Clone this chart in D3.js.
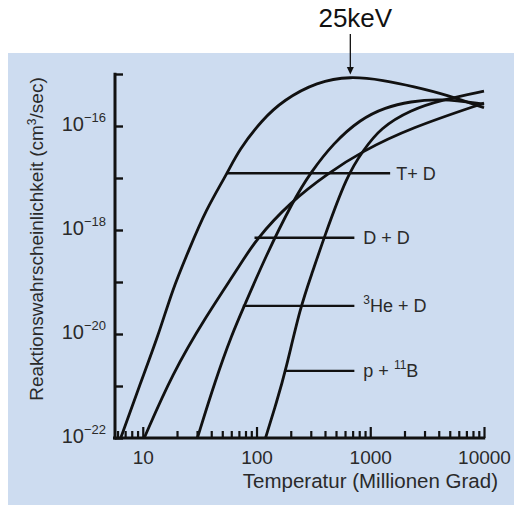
<!DOCTYPE html>
<html>
<head>
<meta charset="utf-8">
<script src="https://cdn.jsdelivr.net/npm/d3@7"></script>
<style>
  html, body { margin: 0; padding: 0; background: #ffffff; }
  svg { display: block; font-family: "Liberation Sans", Arial, sans-serif; }
</style>
</head>
<body>
<svg id="chart" width="514" height="508"></svg>
<script>
// ---- Data (temperature in million degrees, rate in log10(cm^3/sec)) ----
const tdT    = [6.4, 9.3, 13.9, 18.2, 25.5, 35.7, 55.3, 70, 112, 173, 340, 668, 1310, 2400, 4710, 10000];
const tdLog  = [-22, -21.01, -19.99, -19.15, -18.38, -17.62, -16.91, -16.46, -15.88, -15.50, -15.15, -15.04, -15.12, -15.24, -15.40, -15.65];

const ddT    = [10.3, 18.2, 35.7, 70, 98, 199, 431, 845, 2245, 10000];
const ddLog  = [-22, -20.76, -19.67, -18.71, -18.19, -17.46, -16.90, -16.49, -16.04, -15.56];

const hedT   = [30.2, 43.6, 61.2, 77.4, 120, 212, 298, 473, 817, 1355, 2245, 4110, 10000];
const hedLog = [-22, -20.88, -19.99, -19.48, -18.51, -17.42, -16.90, -16.33, -15.87, -15.64, -15.53, -15.47, -15.58];

const pbT    = [120, 152, 180, 243, 308, 389, 625, 874, 1224, 2245, 4370, 10000];
const pbLog  = [-22, -21.27, -20.71, -19.48, -18.83, -18.17, -16.94, -16.46, -16.04, -15.69, -15.49, -15.33];

const seriesNames  = ["T+ D", "D + D", "He + D", "p + B"];
const labelStartT  = [55.3, 98, 77.4, 180];
const labelLog     = [-16.91, -18.15, -19.46, -20.71];
const labelEndT    = [1496, 725, 725, 725];

const xMajorTicks = [10, 100, 1000, 10000];
const xMinorTicks = [6, 7, 8, 9, 20, 30, 40, 50, 60, 70, 80, 90,
                     200, 300, 400, 500, 600, 700, 800, 900,
                     2000, 3000, 4000, 5000, 6000, 7000, 8000, 9000];
const yTickExps   = [-22, -21, -20, -19, -18, -17, -16, -15];
const yLabelExps  = [-22, -20, -18, -16];
const peakLabel   = "25keV";
const peakT       = 668;
const peakLog     = -15.04;

// ---- Drawing ----
const svg = d3.select("#chart");
const ink = "#111";
const txt = "#2a2a2a";

svg.append("rect").attr("x", 8).attr("y", 53).attr("width", 506).attr("height", 452)
   .attr("fill", "#cddcf0");

const x = d3.scaleLog().domain([5.7, 10000]).range([115, 484]);
const y = d3.scaleLog().domain([1e-22, 1e-15]).range([438, 74]);

// x axis
const xAxisG = svg.append("g").attr("transform", "translate(0,438)");
xAxisG.call(d3.axisBottom(x).tickValues(xMinorTicks).tickSize(-7).tickSizeOuter(0).tickFormat(""));
xAxisG.append("g").call(d3.axisBottom(x).tickValues(xMajorTicks).tickSize(-11).tickSizeOuter(0)
  .tickPadding(13).tickFormat(d3.format("d")));
xAxisG.selectAll("path.domain").remove();
xAxisG.selectAll("line").attr("stroke", ink).attr("stroke-width", 2.2);
xAxisG.selectAll("text").attr("font-size", 19).attr("fill", txt)
  .attr("font-family", "Liberation Sans, Arial, sans-serif");
svg.append("line").attr("x1", 113).attr("x2", x(10000) + 1.2).attr("y1", 438).attr("y2", 438)
   .attr("stroke", ink).attr("stroke-width", 3);

// y axis
const yAxisG = svg.append("g").attr("transform", "translate(115,0)");
yAxisG.call(d3.axisLeft(y).tickValues(yTickExps.map(e => Math.pow(10, e))).tickSize(-8)
  .tickSizeOuter(0).tickPadding(9).tickFormat(""));
yAxisG.selectAll("path.domain").remove();
yAxisG.selectAll("line").attr("stroke", ink).attr("stroke-width", 2.4);
yAxisG.selectAll(".tick").each(function(d) {
  const e = Math.round(Math.log10(d));
  if (!yLabelExps.includes(e)) return;
  const t = d3.select(this).select("text");
  t.text("").attr("fill", txt).attr("font-family", "Liberation Sans, Arial, sans-serif")
   .attr("dy", "0.45em");
  t.append("tspan").attr("font-size", 20).text("10");
  t.append("tspan").attr("font-size", 13).attr("dy", -9).text("\u2212" + Math.abs(e));
});
svg.append("line").attr("x1", 115).attr("x2", 115).attr("y1", y(1e-15) - 1.2).attr("y2", 439.5)
   .attr("stroke", ink).attr("stroke-width", 3);

// axis titles
svg.append("text").attr("x", 498).attr("y", 488).attr("text-anchor", "end")
   .attr("font-size", 20.5).attr("fill", txt).text("Temperatur (Millionen Grad)");
const yt = svg.append("text").attr("transform", "translate(43,239) rotate(-90)")
   .attr("text-anchor", "middle").attr("font-size", 19).attr("fill", txt);
yt.append("tspan").text("Reaktionswahrscheinlichkeit (cm");
yt.append("tspan").attr("font-size", 12).attr("dy", -7).text("3");
yt.append("tspan").attr("dy", 7).text("/sec)");

// curves
const line = d3.line().x(d => x(d[0])).y(d => y(Math.pow(10, d[1]))).curve(d3.curveBasis);
const series = [[tdT, tdLog], [ddT, ddLog], [hedT, hedLog], [pbT, pbLog]];
series.forEach(([ts, ls]) => {
  svg.append("path").datum(ts.map((t, i) => [t, ls[i]]))
     .attr("d", line).attr("fill", "none").attr("stroke", ink).attr("stroke-width", 2.8)
     .attr("stroke-linejoin", "round");
});

// label leader lines and labels
seriesNames.forEach((name, i) => {
  const yy = y(Math.pow(10, labelLog[i]));
  svg.append("line").attr("x1", x(labelStartT[i]) - 1).attr("x2", x(labelEndT[i]))
     .attr("y1", yy).attr("y2", yy).attr("stroke", ink).attr("stroke-width", 2.4);
  const t = svg.append("text").attr("x", x(labelEndT[i]) + (i === 0 ? 6 : 9)).attr("y", yy + 6.5)
     .attr("font-size", 18).attr("fill", txt);
  if (i === 2) {
    t.append("tspan").attr("font-size", 12).attr("dy", -8).text("3");
    t.append("tspan").attr("dy", 8).text("He + D");
  } else if (i === 3) {
    t.append("tspan").text("p + ");
    t.append("tspan").attr("font-size", 12).attr("dy", -8).text("11");
    t.append("tspan").attr("dy", 8).text("B");
  } else {
    t.text(name);
  }
});

// peak annotation
const px = x(peakT), py = y(Math.pow(10, peakLog));
svg.append("text").attr("x", px + 5).attr("y", 27).attr("text-anchor", "middle")
   .attr("font-size", 26).attr("fill", "#111").text(peakLabel);
svg.append("line").attr("x1", px).attr("x2", px).attr("y1", 34).attr("y2", py - 7)
   .attr("stroke", ink).attr("stroke-width", 1.3);
svg.append("path").attr("d", `M${px - 3.5},${py - 9} L${px + 3.5},${py - 9} L${px},${py - 1.5} Z`)
   .attr("fill", ink);
</script>
</body>
</html>
